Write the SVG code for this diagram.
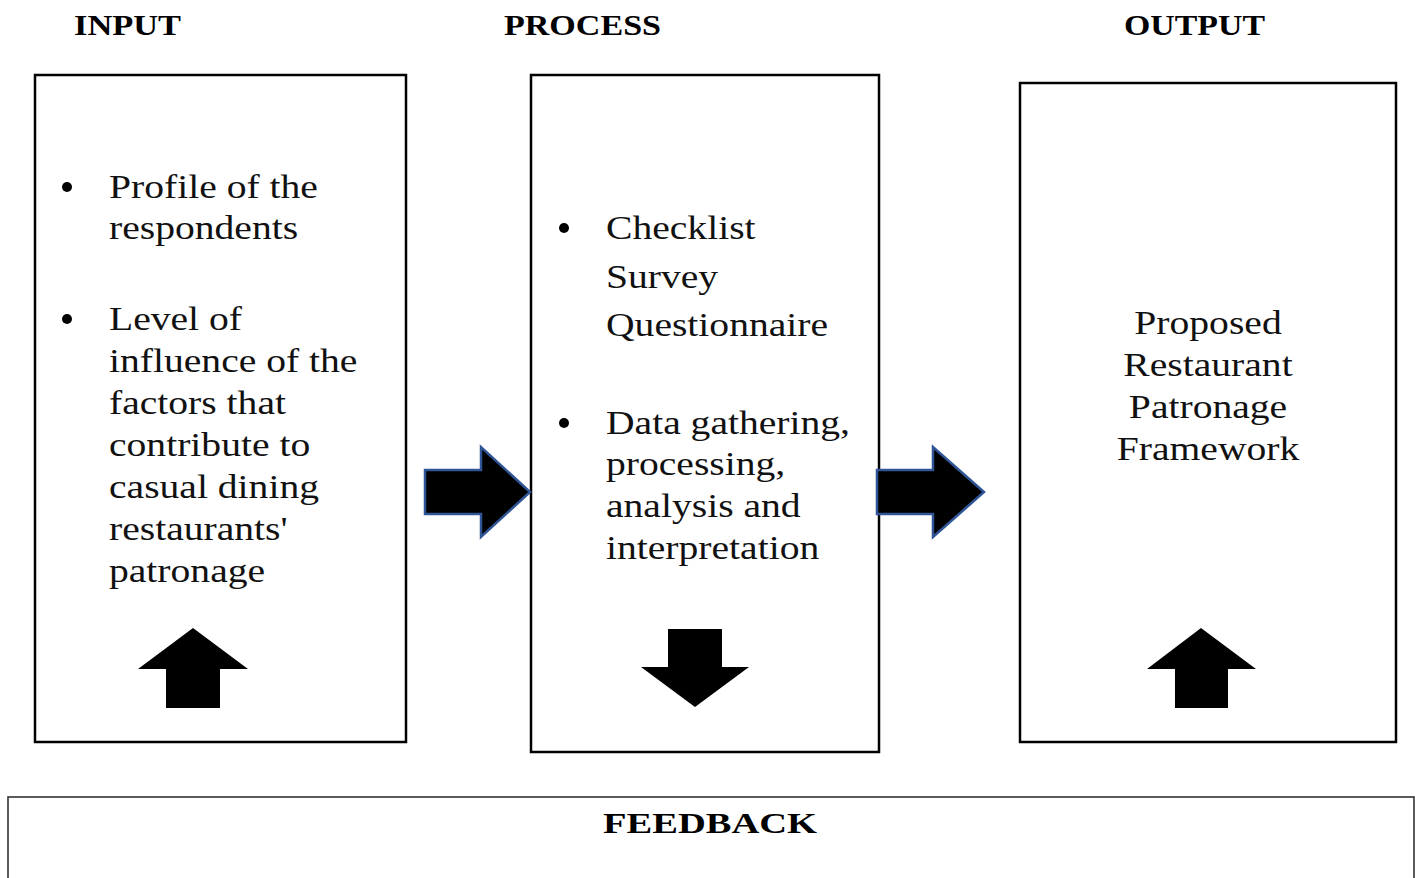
<svg xmlns="http://www.w3.org/2000/svg" width="1415" height="878" viewBox="0 0 1415 878">
  <style>
    .box { fill: #ffffff; stroke: #000000; stroke-width: 2.5; }
    .fb { fill: #ffffff; stroke: #333333; stroke-width: 1.6; }
    .hdr { font-family: "Liberation Serif", "Times New Roman", serif; font-weight: bold; font-size: 30px; fill: #000000; }
    .body { font-family: "Liberation Serif", "Times New Roman", serif; font-size: 33px; fill: #111111; }
    .flow { fill: #000000; stroke: #2f5597; stroke-width: 2.5; stroke-linejoin: miter; }
    .blk { fill: #000000; }
    .dot { fill: #000000; }
  </style>
  <rect width="1415" height="878" fill="#ffffff"/>

  <!-- column headings -->
  <text class="hdr" x="74" y="35" textLength="107" lengthAdjust="spacingAndGlyphs">INPUT</text>
  <text class="hdr" x="504" y="35" textLength="157" lengthAdjust="spacingAndGlyphs">PROCESS</text>
  <text class="hdr" x="1124" y="35" textLength="141" lengthAdjust="spacingAndGlyphs">OUTPUT</text>

  <!-- input -->
  <g id="input">
    <rect class="box" x="35" y="75" width="371" height="667"/>
    <circle class="dot" cx="67" cy="187" r="5"/>
    <circle class="dot" cx="67" cy="319" r="5"/>
    <g transform="translate(109 0) scale(1.2 1)">
      <text class="body" x="0" y="198">Profile of the</text>
      <text class="body" x="0" y="239">respondents</text>
      <text class="body" x="0" y="330">Level of</text>
      <text class="body" x="0" y="372">influence of the</text>
      <text class="body" x="0" y="414">factors that</text>
      <text class="body" x="0" y="456">contribute to</text>
      <text class="body" x="0" y="498">casual dining</text>
      <text class="body" x="0" y="540">restaurants'</text>
      <text class="body" x="0" y="582">patronage</text>
    </g>
    <polygon class="blk" points="193,628 248,669 220,669 220,708 166,708 166,669 138,669"/>
  </g>

  <!-- process -->
  <g id="process">
    <rect class="box" x="531" y="75" width="348" height="677"/>
    <circle class="dot" cx="564" cy="228" r="5"/>
    <circle class="dot" cx="564" cy="423" r="5"/>
    <g transform="translate(606 0) scale(1.2 1)">
      <text class="body" x="0" y="239">Checklist</text>
      <text class="body" x="0" y="288">Survey</text>
      <text class="body" x="0" y="336">Questionnaire</text>
      <text class="body" x="0" y="434">Data gathering,</text>
      <text class="body" x="0" y="475">processing,</text>
      <text class="body" x="0" y="517">analysis and</text>
      <text class="body" x="0" y="559">interpretation</text>
    </g>
    <polygon class="blk" points="668,629 722,629 722,667 749,667 695,707 641,667 668,667"/>
  </g>

  <!-- output -->
  <g id="output">
    <rect class="box" x="1020" y="83" width="376" height="659"/>
    <g transform="translate(1208 0) scale(1.2 1)">
      <text class="body" x="0" y="334" text-anchor="middle">Proposed</text>
      <text class="body" x="0" y="376" text-anchor="middle">Restaurant</text>
      <text class="body" x="0" y="418" text-anchor="middle">Patronage</text>
      <text class="body" x="0" y="460" text-anchor="middle">Framework</text>
    </g>
    <polygon class="blk" points="1201,628 1256,669 1228,669 1228,708 1175,708 1175,669 1147,669"/>
  </g>

  <!-- feedback -->
  <g id="feedback">
    <rect class="fb" x="8" y="797" width="1406" height="100"/>
    <text class="hdr" x="603" y="833" textLength="214" lengthAdjust="spacingAndGlyphs">FEEDBACK</text>
  </g>

  <!-- flow arrows between stages -->
  <g id="connectors">
    <polygon class="flow" points="425,470 481,470 481,447 530,492 481,537 481,514 425,514"/>
    <polygon class="flow" points="877,470 933,470 933,447 984,492 933,537 933,514 877,514"/>
  </g>
</svg>
